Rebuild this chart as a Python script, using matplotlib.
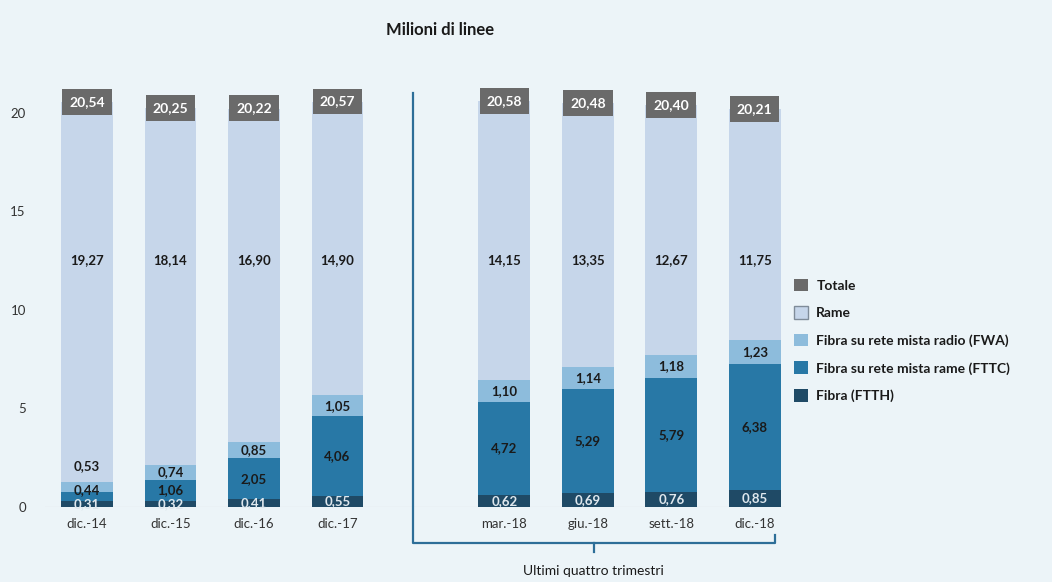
import matplotlib
matplotlib.use("Agg")
import matplotlib.pyplot as plt
from matplotlib.patches import Patch
import numpy as np

plt.rcParams['font.family'] = ['Lato', 'DejaVu Sans']

categories = ["dic.-14", "dic.-15", "dic.-16", "dic.-17",
              "mar.-18", "giu.-18", "sett.-18", "dic.-18"]
ftth = [0.31, 0.32, 0.41, 0.55, 0.62, 0.69, 0.76, 0.85]
fttc = [0.44, 1.06, 2.05, 4.06, 4.72, 5.29, 5.79, 6.38]
fwa = [0.53, 0.74, 0.85, 1.05, 1.10, 1.14, 1.18, 1.23]
rame = [19.27, 18.14, 16.90, 14.90, 14.15, 13.35, 12.67, 11.75]
totale = [20.54, 20.25, 20.22, 20.57, 20.58, 20.48, 20.40, 20.21]

bg = '#ecf4f8'
c_ftth = '#1f4a66'
c_fttc = '#2878a6'
c_fwa = '#8dbcdc'
c_rame = '#c6d6ea'
c_tot = '#6a6a6a'

def fmt(v):
    return f"{v:.2f}".replace('.', ',')

# two groups with an empty slot between them
x = np.array([0, 1, 2, 3, 5, 6, 7, 8], dtype=float)
w = 0.62

fig = plt.figure(figsize=(10.52, 5.82), dpi=100, facecolor=bg)
ax = fig.add_axes([0.043, 0.129, 0.703, 0.745], facecolor=bg)

b0 = np.zeros(len(x))
b1 = b0 + np.array(ftth)
b2 = b1 + np.array(fttc)
b3 = b2 + np.array(fwa)

ax.bar(x, ftth, w, bottom=b0, color=c_ftth, zorder=2)
ax.bar(x, fttc, w, bottom=b1, color=c_fttc, zorder=2)
ax.bar(x, fwa, w, bottom=b2, color=c_fwa, zorder=2)
ax.bar(x, rame, w, bottom=b3, color=c_rame, zorder=2)

lbl = dict(ha='center', va='center', fontsize=9.5, fontweight='bold', zorder=4)
for i in range(len(x)):
    ax.text(x[i], b0[i] + ftth[i] / 2, fmt(ftth[i]), color='#dfe8ee', **lbl)
    yc = b1[i] + fttc[i] / 2
    if fttc[i] < 0.6:
        yc += 0.3
    ax.text(x[i], yc, fmt(fttc[i]), color='#1a1a1a', **lbl)
    if fwa[i] < 0.6:
        yf = b3[i] + 0.8
    else:
        yf = b2[i] + fwa[i] / 2
    ax.text(x[i], yf, fmt(fwa[i]), color='#1a1a1a', **lbl)
    ax.text(x[i], 12.5, fmt(rame[i]), color='#1a1a1a', **lbl)
    ax.text(x[i], totale[i], fmt(totale[i]), color='white', fontsize=10,
            fontweight='bold', ha='center', va='center', zorder=5,
            bbox=dict(boxstyle='square,pad=0.5', fc=c_tot, ec='none'))

ax.set_xlim(-0.5, 8.36)
ax.set_ylim(0, 22)
ax.set_yticks([0, 5, 10, 15, 20])
ax.set_xticks(x)
ax.set_xticklabels(categories)
ax.tick_params(axis='both', length=0, labelsize=9.5, colors='#333333')
ax.tick_params(axis='y', pad=14)
ax.tick_params(axis='x', pad=8)
for s in ax.spines.values():
    s.set_visible(False)
ax.axhline(0, color='#c9c9c9', lw=0.8, zorder=1)

# separator and bracket for the last four quarters
lc = '#2d6e98'
xs, xe = 3.9, 8.24
yb = -1.83
ax.plot([xs, xs, xe, xe], [21.0, yb, yb, yb + 0.4], color=lc, lw=1.6, clip_on=False)
xm = (xs + xe) / 2
ax.plot([xm, xm], [yb, yb - 0.45], color=lc, lw=1.6, clip_on=False)
ax.text(xm, yb - 1.4, "Ultimi quattro trimestri", ha='center', va='center',
        fontsize=10, color='#1a1a1a')

fig.text(0.418, 0.948, "Milioni di linee", ha='center', va='center',
         fontsize=12, fontweight='bold', color='#1a1a1a')

handles = [
    Patch(facecolor=c_tot, edgecolor='none', label='Totale'),
    Patch(facecolor=c_rame, edgecolor='#7f8c99', label='Rame'),
    Patch(facecolor=c_fwa, edgecolor='none', label='Fibra su rete mista radio (FWA)'),
    Patch(facecolor=c_fttc, edgecolor='none', label='Fibra su rete mista rame (FTTC)'),
    Patch(facecolor=c_ftth, edgecolor='none', label='Fibra (FTTH)'),
]
leg = fig.legend(handles=handles, loc='center left', bbox_to_anchor=(0.743, 0.415),
                 frameon=False, fontsize=10, handlelength=1.0, handleheight=1.0,
                 handletextpad=0.6, labelspacing=1.05)
for t in leg.get_texts():
    t.set_fontweight('bold')
    t.set_color('#1a1a1a')

fig.savefig("out.png", dpi=100, facecolor=bg)
